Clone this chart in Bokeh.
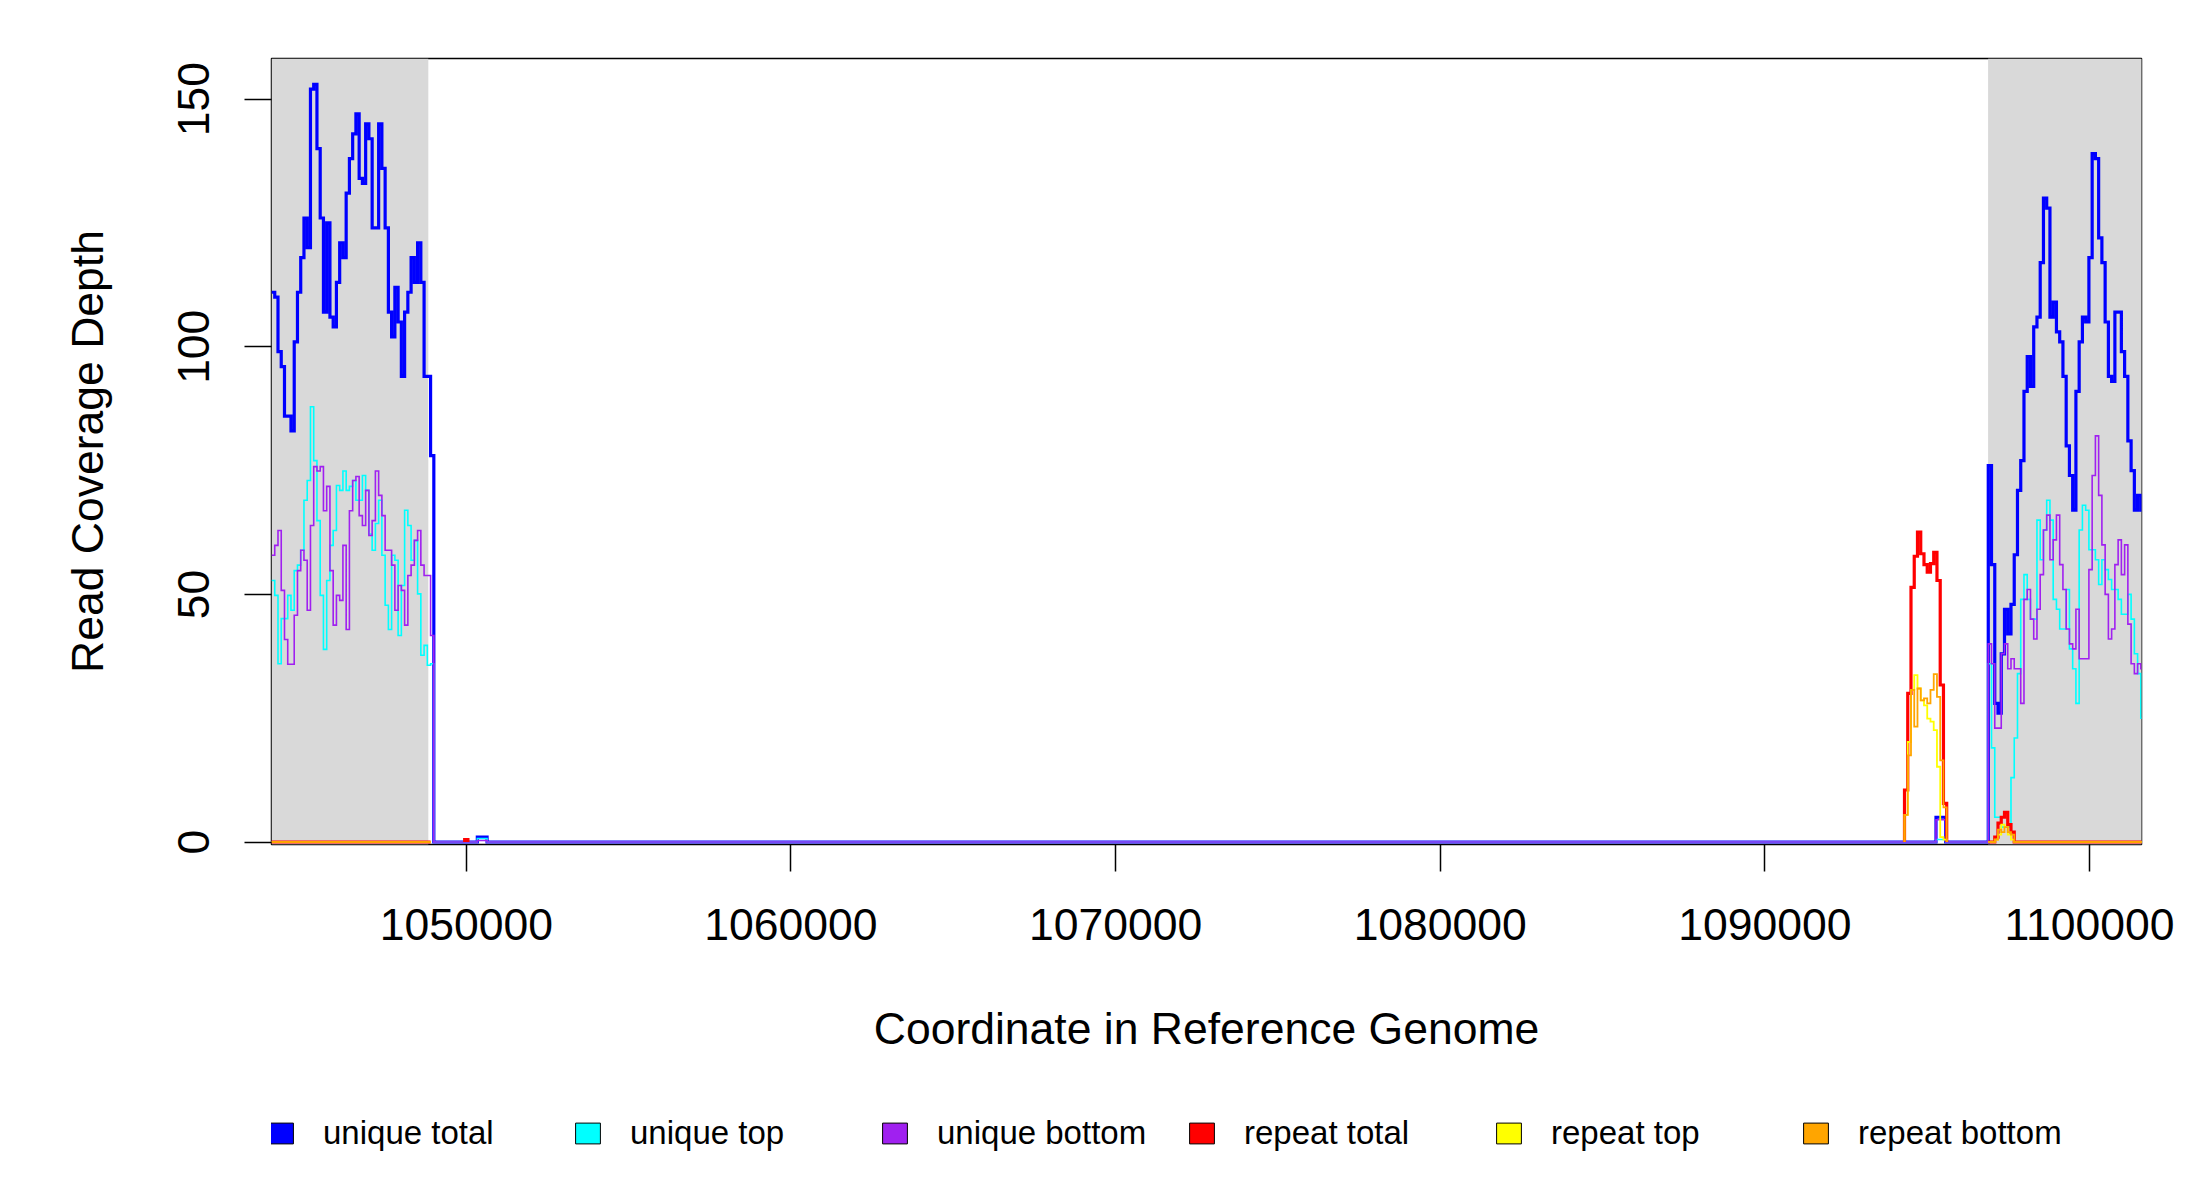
import numpy as np
from bokeh.plotting import figure
from bokeh.layouts import column
from bokeh.models import (BoxAnnotation, FixedTicker, Legend, LegendItem,
                          BasicTickFormatter, Range1d)
from bokeh.embed import file_html
from bokeh.resources import INLINE

# ---------------- data ----------------
BIN = 100  # bp per coverage bin

x_ticks = [1050000, 1060000, 1070000, 1080000, 1090000, 1100000]
y_ticks = [0, 50, 100, 150]
x_limits = (1044000, 1101600)
y_limits = (-0.5, 158.2)

shaded_regions = [(1044000, 1048830), (1096875, 1101700)]

series_names = ["unique total", "unique top", "unique bottom",
                "repeat total", "repeat top", "repeat bottom"]
series_colors = ["#0000FF", "#00FFFF", "#A020F0", "#FF0000", "#FFFF00", "#FFA500"]

# left contig region
left_start = 1044000
left_total = [111, 110, 99, 96, 86, 86, 83, 101, 111, 118,
              126, 120, 152, 153, 140, 126, 107, 125, 106, 104,
              113, 121, 118, 131, 138, 143, 147, 134, 133, 145,
              142, 124, 124, 145, 136, 124, 107, 102, 112, 105,
              94, 107, 111, 118, 113, 121, 113, 94, 94, 78]
left_top = [52.8, 49.8, 36, 45.1, 45.1, 49.8, 46.8, 54.8, 55.9, 58.9,
            69, 73, 87.9, 77, 64.9, 49.8, 38.9, 52.8, 59.9, 62.9,
            72, 71, 74.9, 71, 71.8, 73, 69, 69, 74, 71,
            62.2, 58.9, 64.3, 69, 57.9, 47.8, 42.9, 57.9, 56.9, 41.7,
            51.8, 67, 63.9, 56.9, 60.9, 50.1, 37.7, 39.7, 35.7, 36]
left_bottom = [57.9, 59.9, 62.9, 50.8, 40.9, 35.9, 35.9, 45.8, 54.8, 58.9,
               56.9, 46.8, 63.9, 75.8, 74.9, 75.8, 66.9, 71.8, 54.8, 43.8,
               49.8, 48.8, 59.9, 42.9, 66.9, 73, 73.8, 65.9, 63.9, 71,
               61.9, 64.9, 74.9, 70, 65.9, 58.9, 58.9, 55.9, 46.8, 51.8,
               50.8, 43.8, 53.8, 55.9, 60.9, 62.9, 55.9, 53.8, 53.8, 41.7]
left_repeat = [0, 0, 0, 0, 0, 0, 0, 0, 0, 0,
               0, 0, 0, 0, 0, 0, 0, 0, 0, 0,
               0, 0, 0, 0, 0, 0, 0, 0, 0, 0,
               0, 0, 0, 0, 0, 0, 0, 0, 0, 0,
               0, 0, 0, 0, 0, 0, 0, 0, 0]

# small blip near 1050400
blip1_start = 1050340
blip1_total = [1.0, 1.0, 1.0]
blip1_top = [0.7, 0.7, 0.7]
blip1_bottom = [0.3, 0.3, 0.3]
blip1_repeat_start = 1049950
blip1_repeat_total = [0.5]

# repeat peak near 1094800
rep_start = 1094300
rep_total = [10.5, 30, 51.4, 57.7, 62.6, 58.2, 56, 54.5, 56.2, 58.5, 52.8, 31.7, 7.8]
rep_top = [5.5, 20.2, 30.7, 33.7, 31, 28.6, 27.6, 24.9, 24.3, 22.6, 15.2, 1, 0.5]
rep_bottom = [5.5, 17.5, 30.7, 23.3, 31, 28.6, 29, 28, 30.7, 33.9, 29.3, 16.5, 7]

# small unique blip inside the repeat peak
blip2_start = 1095270
blip2_total = [5, 5, 5]
blip2_top = [0.5, 0.5, 0.5]
blip2_bottom = [4.5, 4.5, 4.5]

# right contig region
right_start = 1096880
right_total = [76, 56, 28, 26, 38, 47, 42, 48, 58, 71,
               77, 91, 98, 92, 104, 106, 117, 130, 128, 106,
               109, 103, 101, 94, 80, 74, 67, 91, 101, 106,
               105, 118, 139, 138, 122, 117, 105, 94, 93, 107,
               107, 99, 94, 81, 75, 67, 70, 67]
right_top = [36, 19, 5, 5, 3, 3, 3, 13, 21, 34,
             49, 54, 49, 45, 45, 65, 57, 63, 69, 65,
             49, 47, 43, 43, 51, 39, 35, 28, 63, 68,
             67, 59, 59, 57, 52, 57, 55, 53, 51, 51,
             49, 46, 46, 50, 45, 38, 34, 25]
right_bottom = [40, 36, 23, 23, 38, 40, 35, 37, 35, 35,
                28, 49, 51, 45, 41, 47, 54, 63, 66, 57,
                61, 66, 56, 51, 43, 40, 39, 47, 37, 37,
                37, 55, 74, 82, 70, 60, 50, 41, 43, 56,
                61, 54, 60, 44, 36, 34, 36, 35]
right_rep_total = [0, 0, 1, 3.8, 5, 6, 3.5, 2, 0, 0,
                   0, 0, 0, 0, 0, 0, 0, 0, 0, 0,
                   0, 0, 0, 0, 0, 0, 0, 0, 0, 0,
                   0, 0, 0, 0, 0, 0, 0, 0, 0, 0,
                   0, 0, 0, 0, 0, 0, 0, 0]
right_rep_top = [0, 0, 0.5, 1.5, 3.5, 3, 1.5, 0.5, 0, 0,
                 0, 0, 0, 0, 0, 0, 0, 0, 0, 0,
                 0, 0, 0, 0, 0, 0, 0, 0, 0, 0,
                 0, 0, 0, 0, 0, 0, 0, 0, 0, 0,
                 0, 0, 0, 0, 0, 0, 0, 0]
right_rep_bottom = [0, 0, 0.5, 2.5, 2, 3, 2, 1.5, 0, 0,
                    0, 0, 0, 0, 0, 0, 0, 0, 0, 0,
                    0, 0, 0, 0, 0, 0, 0, 0, 0, 0,
                    0, 0, 0, 0, 0, 0, 0, 0, 0, 0,
                    0, 0, 0, 0, 0, 0, 0, 0]


def step_path(start, values, rise_from_zero=True):
    xs, ys = [], []
    if rise_from_zero:
        xs.append(start)
        ys.append(0)
    for i, v in enumerate(values):
        x0 = start + i * BIN
        xs += [x0, x0 + BIN]
        ys += [v, v]
    xs.append(start + len(values) * BIN)
    ys.append(0)
    return xs, ys


def join(*parts):
    xs, ys = [], []
    for px, py in parts:
        xs += px
        ys += py
    return xs, ys


unique_series = [
    join(step_path(left_start, left_total, False), step_path(blip1_start, blip1_total),
         step_path(blip2_start, blip2_total), step_path(right_start, right_total)),
    join(step_path(left_start, left_top, False), step_path(blip1_start, blip1_top),
         step_path(blip2_start, blip2_top), step_path(right_start, right_top)),
    join(step_path(left_start, left_bottom, False), step_path(blip1_start, blip1_bottom),
         step_path(blip2_start, blip2_bottom), step_path(right_start, right_bottom)),
]
repeat_series = [
    [step_path(left_start, left_repeat, False), step_path(blip1_repeat_start, blip1_repeat_total),
     step_path(rep_start, rep_total), step_path(right_start, right_rep_total)],
    [step_path(left_start, left_repeat, False),
     step_path(rep_start, rep_top), step_path(right_start, right_rep_top)],
    [step_path(left_start, left_repeat, False),
     step_path(rep_start, rep_bottom), step_path(right_start, right_rep_bottom)],
]

# ---------------- main figure ----------------
FONT = "Liberation Sans"
p = figure(width=2184, height=1084, output_backend="svg", toolbar_location=None,
           x_range=Range1d(*x_limits), y_range=Range1d(*y_limits),
           min_border_left=271, min_border_right=43, min_border_top=58,
           min_border_bottom=240)
p.grid.visible = False
p.outline_line_color = "black"
p.outline_line_width = 1.5
p.background_fill_color = "white"
p.border_fill_color = "white"

for (a, b) in shaded_regions:
    p.add_layout(BoxAnnotation(left=a, right=b, fill_color="#D9D9D9", fill_alpha=1.0,
                               line_alpha=0, level="underlay"))

widths_unique = [3.2, 1.6, 1.6]
for (xs, ys), c, w in zip(unique_series, series_colors[:3], widths_unique):
    p.line(xs, ys, line_color=c, line_width=w, line_join="miter")

widths_repeat = [3.2, 1.8, 1.8]
for segs, c, w in zip(repeat_series, series_colors[3:], widths_repeat):
    for xs, ys in segs:
        p.line(xs, ys, line_color=c, line_width=w, line_join="miter")

p.xaxis.ticker = FixedTicker(ticks=x_ticks)
p.xaxis.formatter = BasicTickFormatter(use_scientific=False)
p.yaxis.ticker = FixedTicker(ticks=y_ticks)
for ax in (p.xaxis[0], p.yaxis[0]):
    ax.axis_line_color = None
    ax.major_tick_line_color = "black"
    ax.major_tick_line_width = 1.5
    ax.major_tick_out = 27
    ax.major_tick_in = 0
    ax.minor_tick_line_color = None
    ax.major_label_text_font = FONT
    ax.major_label_text_font_size = "44.5px"
    ax.major_label_text_color = "black"
    ax.axis_label_text_font = FONT
    ax.axis_label_text_font_size = "44.5px"
    ax.axis_label_text_font_style = "normal"
    ax.axis_label_text_color = "black"

p.xaxis.axis_label = "Coordinate in Reference Genome"
p.xaxis.major_label_standoff = 37
p.xaxis.axis_label_standoff = 61
p.yaxis.axis_label = "Read Coverage Depth"
p.yaxis.major_label_orientation = "vertical"
p.yaxis.major_label_standoff = 35
p.yaxis.axis_label_standoff = 64

# ---------------- legend strip ----------------
q = figure(width=2184, height=100, output_backend="svg", toolbar_location=None,
           x_range=Range1d(0, 1), y_range=Range1d(0, 1), min_border=0,
           x_axis_location=None, y_axis_location=None)
q.grid.visible = False
q.outline_line_color = None
q.background_fill_color = "white"
q.border_fill_color = "white"

items = []
for name, c in zip(series_names, series_colors):
    r = q.quad(left=[np.nan], right=[np.nan], top=[np.nan], bottom=[np.nan],
               fill_color=c, line_color="black", line_width=1)
    items.append(LegendItem(label=name, renderers=[r]))
legend = Legend(items=items, orientation="horizontal", location=(-6, 32),
                glyph_width=31, glyph_height=26, label_standoff=27, label_width=230,
                spacing=19, padding=0, margin=0, border_line_color=None,
                background_fill_alpha=0, label_text_font=FONT,
                label_text_font_size="33px", label_text_color="black")
q.add_layout(legend)

open("out.html", "w").write(file_html(column(p, q), INLINE))
